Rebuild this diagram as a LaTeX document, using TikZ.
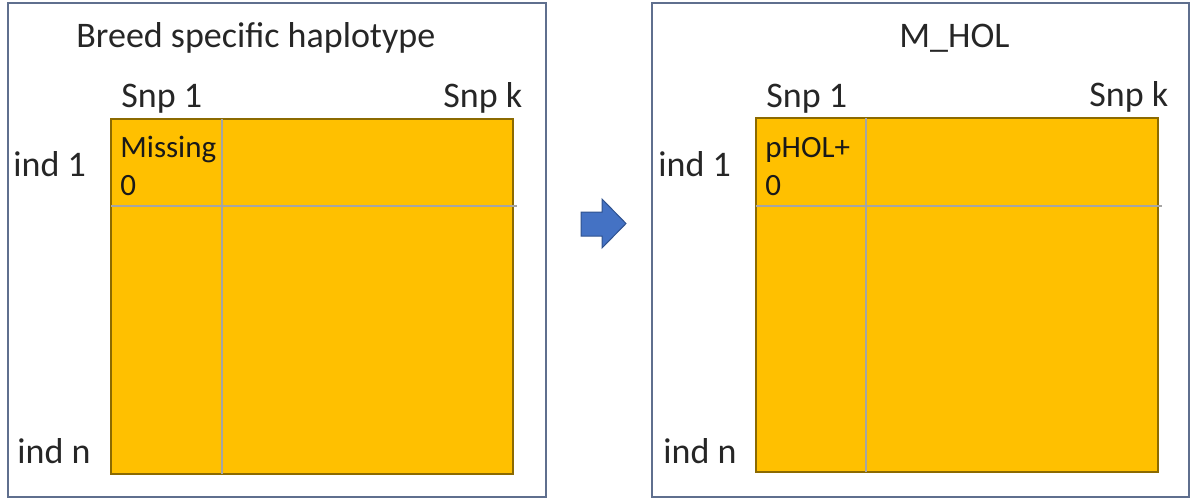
\documentclass[tikz,border=0pt]{standalone}
\usepackage{fontspec}
\setmainfont{Carlito}
\begin{document}
\begin{tikzpicture}[x=0.5pt,y=-0.5pt,
  panel/.style={draw=frameblue,line width=0.8pt},
  grid/.style={fill=gold,draw=golddark,line width=0.6pt},
  divider/.style={draw=dividergray,line width=1.4pt},
  lbl/.style={anchor=base west,inner sep=0pt,font=\fontsize{18}{20}\selectfont,text=black!85},
  cell/.style={anchor=base west,inner sep=0pt,font=\fontsize{15.5}{18}\selectfont,text=black!90},
  blockarrow/.style={fill=arrowblue,draw=arrowedge,line width=0.5pt,line join=miter}]
\definecolor{frameblue}{HTML}{5F6F8E}
\definecolor{gold}{HTML}{FFC000}
\definecolor{golddark}{HTML}{8C6A00}
\definecolor{dividergray}{HTML}{A5A5A5}
\definecolor{arrowblue}{HTML}{4472C4}
\definecolor{arrowedge}{HTML}{2F528F}
\useasboundingbox (0,0) rectangle (1192,499);

% left panel: breed specific haplotype matrix
\draw[panel] (8,3) rectangle (546,497);
\node[lbl] (ltitle) at (76,47) {Breed specific haplotype};
\draw[grid] (111,119) rectangle (513,474);
\coordinate (lv1) at (222,119); \coordinate (lv2) at (222,474);
\coordinate (lh1) at (111,206); \coordinate (lh2) at (517,206);
\draw[divider] (lv1) -- (lv2);
\draw[divider] (lh1) -- (lh2);
\node[lbl] (lsnp1) at (121,107) {Snp 1};
\node[lbl] (lsnpk) at (443,107) {Snp k};
\node[lbl] (lind1) at (13,176) {ind 1};
\node[lbl] (lindn) at (17,463) {ind n};
\node[cell] (lmiss) at (120,157) {Missing};
\node[cell] (lzero) at (120,195) {0};

% block arrow between the panels
\draw[blockarrow] (581,212) -- (602,212) -- (602,199) -- (626,223.5)
  -- (602,248) -- (602,236) -- (581,236) -- cycle;

% right panel: M_HOL matrix
\draw[panel] (652,3) rectangle (1189,497);
\node[lbl] (rtitle) at (899,47) {M\_HOL};
\draw[grid] (756,118) rectangle (1158,472);
\coordinate (rv1) at (866,118); \coordinate (rv2) at (866,472);
\coordinate (rh1) at (756,206); \coordinate (rh2) at (1162,206);
\draw[divider] (rv1) -- (rv2);
\draw[divider] (rh1) -- (rh2);
\node[lbl] (rsnp1) at (766,107) {Snp 1};
\node[lbl] (rsnpk) at (1089,106) {Snp k};
\node[lbl] (rind1) at (658,176) {ind 1};
\node[lbl] (rindn) at (663,463) {ind n};
\node[cell] (rphol) at (765,157) {pHOL+};
\node[cell] (rzero) at (765,195) {0};
\end{tikzpicture}
\end{document}
